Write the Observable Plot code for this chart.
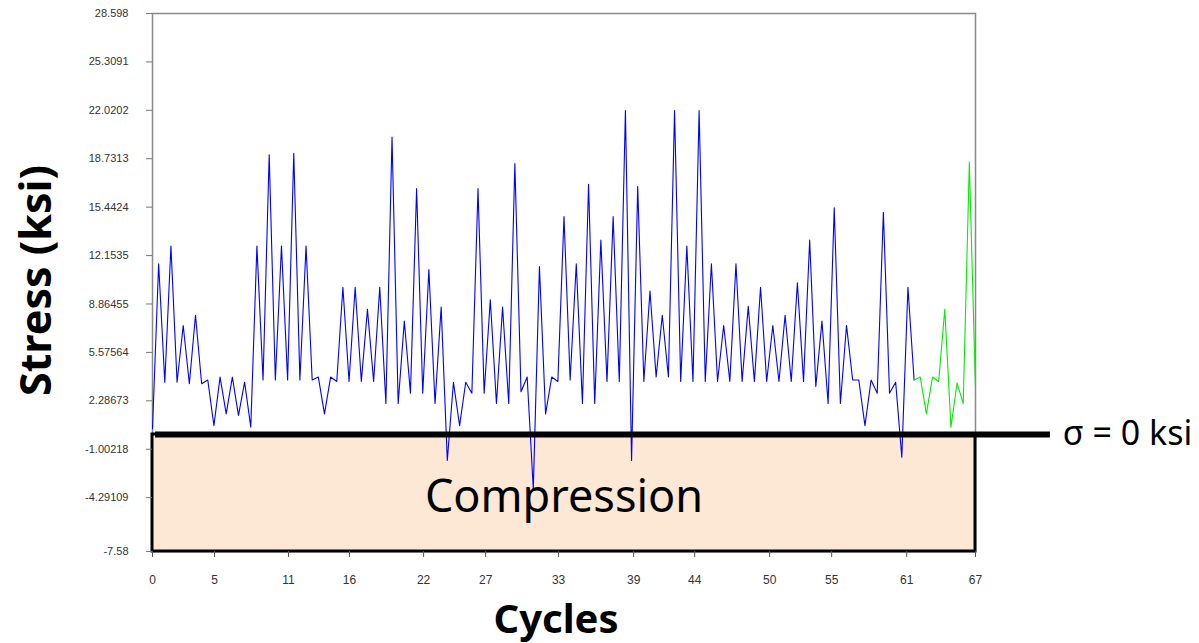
<!DOCTYPE html>
<html>
<head>
<meta charset="utf-8">
<script src="https://cdn.jsdelivr.net/npm/d3@7"></script>
<script src="https://cdn.jsdelivr.net/npm/@observablehq/plot@0.6"></script>
<style>
  html, body { margin: 0; padding: 0; background: #fff; }
  #chart { width: 1199px; height: 643px; }
</style>
</head>
<body>
<div id="chart"></div>
<script>
// ---- Data (one value every half cycle) ----
const stressBlue = [
  0.4, 11.6, 3.55, 12.8, 3.55, 7.4, 3.45, 8.1, 3.45, 3.7,
  0.6, 3.9, 1.4, 3.9, 1.3, 3.55, 0.5, 12.8, 3.7, 19.0,
  3.7, 12.8, 3.7, 19.1, 3.7, 12.8, 3.7, 3.9, 1.4, 3.9,
  3.6, 10.0, 3.6, 10.0, 3.6, 8.5, 3.6, 10.0, 2.1, 20.2,
  2.1, 7.7, 2.8, 16.7, 2.8, 11.2, 2.1, 8.65, -1.77, 3.55,
  0.6, 3.55, 2.8, 16.7, 2.8, 9.15, 2.1, 8.65, 2.1, 18.4,
  2.9, 3.9, -3.7, 11.4, 1.4, 3.9, 3.6, 14.8, 3.7, 11.6,
  2.1, 17.0, 2.1, 13.2, 3.6, 14.8, 3.6, 22.0, -1.77, 16.85,
  3.6, 9.75, 3.9, 8.1, 3.9, 22.0, 3.6, 12.8, 3.6, 22.0,
  3.6, 11.6, 3.6, 7.4, 3.6, 11.6, 3.6, 8.7, 3.6, 10.0,
  3.6, 7.4, 3.6, 8.1, 3.6, 10.3, 3.6, 13.2, 3.26, 7.7,
  2.1, 15.4, 2.1, 7.4, 3.7, 3.7, 0.6, 3.7, 2.8, 15.1,
  2.8, 3.55, -1.54, 10.0, 3.7
];
// green tail continues from the last blue point
const stressGreen = [
  3.7, 3.9, 1.4, 3.9, 3.6, 8.5, 0.5, 3.5, 2.1, 18.5, 3.0
];
const stepCycles = 0.5;        // spacing between recorded points (cycles)
const greenStartIndex = stressBlue.length - 1;

const xTickPos    = [0, 5.05, 11.07, 16.04, 22.07, 27.12, 33.06, 39.17, 44.14, 50.24, 55.29, 61.4, 67];
const xTickLabels = ["0", "5", "11", "16", "22", "27", "33", "39", "44", "50", "55", "61", "67"];

const yTickVals   = [28.598, 25.3091, 22.0202, 18.7313, 15.4424, 12.1535, 8.86455, 5.57564, 2.28673, -1.00218, -4.29109];
const yTickLabels = ["28.598", "25.3091", "22.0202", "18.7313", "15.4424", "12.1535", "8.86455", "5.57564", "2.28673", "-1.00218", "-4.29109", "-7.58"];

const xDomain = [0, 67];
const yDomain = [-7.95, 28.598];

// ---- Build tables ----
const blue = stressBlue.map((v, i) => ({cycle: i * stepCycles, stress: v}));
const green = stressGreen.map((v, i) => ({cycle: (greenStartIndex + i) * stepCycles, stress: v}));

const yTicks = yTickVals.concat([yDomain[0]]);
const yLabelMap = new Map(yTicks.map((v, i) => [v, yTickLabels[i]]));
const xLabelMap = new Map(xTickPos.map((v, i) => [v, xTickLabels[i]]));

const tickFont = "'Liberation Sans', Arial, sans-serif";
const narrowFont = "'Liberation Sans Narrow', 'Liberation Sans', Arial, sans-serif";
const bigFont = "'Noto Sans', 'Open Sans', sans-serif";

const chart = Plot.plot({
  width: 1199,
  height: 643,
  marginLeft: 152,
  marginRight: 224,
  marginTop: 13,
  marginBottom: 92,
  style: {background: "#fff", fontFamily: tickFont, overflow: "visible"},
  x: {domain: xDomain, axis: null},
  y: {domain: yDomain, axis: null},
  marks: [
    Plot.frame({stroke: "#8a8a8a", strokeWidth: 1.5}),
    Plot.rect([{x1: 0, x2: 67, y1: yDomain[0], y2: 0}], {
      x1: "x1", x2: "x2", y1: "y1", y2: "y2",
      fill: "#fde7d5", stroke: "#000", strokeWidth: 3
    }),
    Plot.axisY(yTicks, {
      anchor: "left", tickSize: 6, tickPadding: 18, stroke: "#777",
      tickFormat: d => yLabelMap.get(d), fontSize: 11, fill: "#333", label: null
    }),
    Plot.axisX(xTickPos, {
      anchor: "bottom", tickSize: 6, tickPadding: 18, stroke: "#555",
      tickFormat: d => xLabelMap.get(d), fontSize: 12, fontFamily: narrowFont, fill: "#333", label: null
    }),
    Plot.line(blue, {x: "cycle", y: "stress", stroke: "#0000ff", strokeWidth: 1.1}),
    Plot.line(green, {x: "cycle", y: "stress", stroke: "#00ee00", strokeWidth: 1.1}),
    Plot.ruleY([0], {x1: 0.25, x2: 73.1, stroke: "#000", strokeWidth: 6}),
    Plot.text(["σ = 0 ksi"], {x: 74.1, y: 0, text: d => d, textAnchor: "start", fontSize: 34, fontFamily: bigFont, fill: "#000"}),
    Plot.text(["Compression"], {x: 33.5, y: -4.3, text: d => d, fontSize: 45, fontFamily: bigFont, fill: "#000"}),
    Plot.text(["Cycles"], {frameAnchor: "bottom", lineAnchor: "middle", textAnchor: "middle", dx: -8, dy: 69, text: d => d, fontSize: 40, fontWeight: "bold", fontFamily: bigFont, fill: "#000"}),
    Plot.text(["Stress (ksi)"], {frameAnchor: "left", lineAnchor: "middle", textAnchor: "middle", dx: -115, dy: -2, rotate: -90, text: d => d, fontSize: 43, fontWeight: "bold", fontFamily: bigFont, fill: "#000"})
  ]
});
document.getElementById("chart").appendChild(chart);
</script>
</body>
</html>
